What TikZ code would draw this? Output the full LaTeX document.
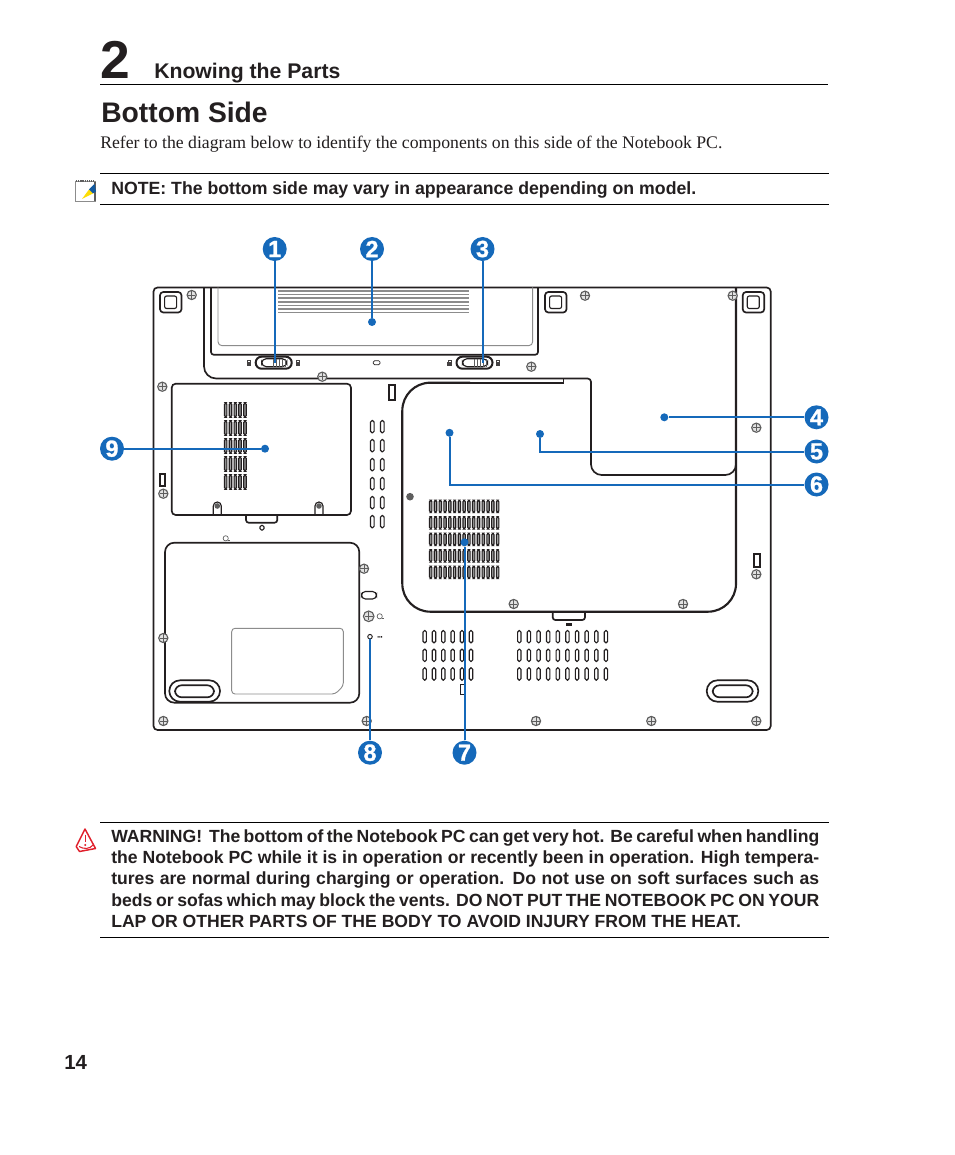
\documentclass[tikz,border=0pt]{standalone}
\usepackage{fontspec}
\setmainfont{Liberation Sans}
\newfontfamily\serifface{Liberation Serif}
\newfontfamily\numface[FakeBold=1.2]{Liberation Sans Bold}
\usepackage{xcolor}
\definecolor{cMain}{HTML}{1569BA}
\definecolor{cInk}{HTML}{231F20}
\definecolor{cGray}{HTML}{8C8C8C}
\definecolor{cSlot}{HTML}{5E5E5E}
\definecolor{cBad}{HTML}{E0202C}
\usetikzlibrary{positioning,arrows.meta}
\tikzset{
  node-num/.style={circle,fill=cMain,text=white,inner sep=0pt,minimum size=18pt,
    font=\numface\fontsize{17.5}{17.5}\selectfont},
  node-dot/.style={circle,fill=cMain,inner sep=0pt,minimum size=6pt},
  node-hole/.style={circle,draw=cInk,fill=white,line width=.7pt,inner sep=0pt,minimum size=3.4pt},
  node-text/.style={inner sep=0pt,text=cInk,anchor=base west},
  arrow-lead/.style={line width=1.5pt,draw=cMain},
  rule-line/.style={line width=.75pt,draw=black},
  part-line/.style={line width=1.25pt,draw=cInk},
  part-heavy/.style={line width=1.6pt,draw=cInk},
  part-thin/.style={line width=.85pt,draw=cInk},
  part-gray/.style={line width=.7pt,draw=cGray},
  vent-slot/.style={line width=.85pt,draw=cInk,rounded corners=1.2pt},
  screw/.pic={
    \draw[line width=.85pt,draw=cSlot,fill=cGray!25] (0,0) circle (4.6);
    \draw[line width=.7pt,draw=cSlot] (-3.6,0) -- (3.6,0) (0,-3.6) -- (0,3.6);
  },
  padfoot/.pic={
    \draw[part-line,rounded corners=2.5pt] (0,0) rectangle (21.5,20.5);
    \draw[part-thin,rounded corners=1.5pt] (4.6,4) rectangle (16.6,16.5);
  },
  latch/.pic={
    \draw[line width=1.5pt,draw=cInk,rounded corners=4.4pt] (0,-6) rectangle (36,6);
    \draw[part-thin,rounded corners=3.4pt] (6,-4) rectangle (31,4);
    \foreach \hx in {18,21,24,27,30} \draw[line width=.45pt,draw=cSlot] (\hx,-4) -- (\hx,4);
  },
  lockmark/.pic={
    \fill[cInk!85] (-2.4,-1) rectangle (2.4,2.8);
    \draw[line width=.6pt,draw=cInk!85] (-1.3,-1) -- (-1.3,-2.6) -- (1.3,-2.6) -- (1.3,-1);
  },
}
\begin{document}
\begin{tikzpicture}[x=.75pt,y=-.75pt]
  \useasboundingbox (0,0) rectangle (954,1155);
  \fill[white] (0,0) rectangle (954,1155);
  % page heading
  \node[node-text,font=\bfseries\fontsize{40}{40}\selectfont] (chapno) at (100,78.5) {2};
  \node[node-text,font=\bfseries\fontsize{15.9}{16}\selectfont] (chaptitle) at (154,78.5) {Knowing the Parts};
  \draw[rule-line] (100,84.5) -- (828,84.5);
  \node[node-text,font=\bfseries\fontsize{21.2}{22}\selectfont] (pagetitle) at (101,122.7) {Bottom Side};
  \node[node-text,font=\serifface\fontsize{13.27}{14}\selectfont] (intro) at (100,148.2)
    {Refer to the diagram below to identify the components on this side of the Notebook PC.};
  % note
  \draw[rule-line] (100,173.5) -- (829,173.5);
  \draw[rule-line] (100,204.5) -- (829,204.5);
  \node[node-text,font=\bfseries\fontsize{13.27}{15}\selectfont] (notetext) at (111,194.7)
    {NOTE: The bottom side may vary in appearance depending on model.};
  \draw[line width=.5pt,draw=cGray,fill=white] (75.5,181) rectangle (95,201.5);
  \draw[line width=1pt,draw=cSlot,dash pattern=on 1pt off .6pt] (76,181) -- (95,181);
  \draw[line width=1pt,draw=cSlot] (95,182) -- (95,201.5);
  \fill[yellow!80!orange] (82,199) -- (89,189.5) -- (93,193.5) -- cycle;
  \fill[cMain!85!black] (89,189.5) -- (94.5,184) -- (96,191.5) -- (93,193.5) -- cycle;
  % notebook body
  \draw[part-line,rounded corners=3pt] (153.5,287.5) rectangle (770.7,730);
  % battery bay
  \draw[part-line] (204,287.5) [rounded corners=9pt] -- (204,378.5) [rounded corners=2.5pt] -- (591,378.5)
    [rounded corners=8pt] -- (591,475) -- (736,475) [sharp corners] -- (736,462);
  \draw[part-line,rounded corners=2pt] (211,287.5) -- (211,354.7) -- (538,354.7) -- (538,287.5);
  \draw[part-gray,rounded corners=3pt] (218,287.5) -- (218,345.7) -- (532.7,345.7) -- (532.7,287.5);
  \foreach \vy in {291,294.6,298.2,301.8,305.4,309,312.4}
    \draw[line width=1.2pt,draw=cGray] (278.3,\vy) -- (469.3,\vy);
  % disk cover
  \draw[part-line] (563.5,378.5) -- (563.5,382.7) -- (470,382.7);
  \draw[part-heavy] (736,287.5) -- (736,560) [rounded corners=21pt] -- (736,611.7) -- (402.3,611.7)
    -- (402.3,382.7) -- (470,382.7);
  \foreach \vx in {0,...,14} \foreach \vy in {506.3,522.8,539.3,555.8,572.3}
    \draw[vent-slot,fill=cSlot!60] ({430.7+\vx*4.78-1.2},{\vy-6.2}) rectangle ({430.7+\vx*4.78+1.2},{\vy+6.2});
  \draw[part-line,rounded corners=2pt] (552.7,611.7) -- (552.7,620) -- (585,620) -- (585,611.7);
  \fill[cInk] (565.5,622.8) rectangle (571.7,625.8);
  % memory cover
  \draw[part-line,rounded corners=3pt] (171.7,383.7) rectangle (351,515);
  \foreach \vx in {225.7,230.5,235.3,240,245} \foreach \vy in {410,428,446,464,482}
    \draw[vent-slot,fill=cSlot!60] ({\vx-1.2},{\vy-7.2}) rectangle ({\vx+1.2},{\vy+7.2});
  \foreach \bx in {217.3,319} {
    \draw[part-thin] ({\bx-4},515) -- ({\bx-4},506) arc (180:360:4) -- ({\bx+4},515);
    \fill[cSlot] (\bx,506) circle (2.8);
  }
  \draw[part-line,rounded corners=2pt] (246,515) -- (246,522.7) -- (277.3,522.7) -- (277.3,515);
  \draw[part-thin,rounded corners=1pt] (260,525.5) rectangle (264,530);
  % middle vents
  \foreach \vy in {426.7,445.7,464.7,483.7,502.7,521.7} \foreach \vx in {372.3,382.3}
    \draw[vent-slot] ({\vx-1.8},{\vy-6.2}) rectangle ({\vx+1.8},{\vy+6.2});
  % lower vents
  \foreach \vy in {636.7,655.3,674} {
    \foreach \vx in {424.7,434,443.3,452.7,462,471}
      \draw[vent-slot] ({\vx-1.7},{\vy-6.2}) rectangle ({\vx+1.7},{\vy+6.2});
    \foreach \vn in {0,...,9}
      \draw[vent-slot] ({519.3+\vn*9.63-1.7},{\vy-6.2}) rectangle ({519.3+\vn*9.63+1.7},{\vy+6.2});
  }
  % lower left cover
  \draw[part-line,rounded corners=7pt] (165,542.7) rectangle (359.3,702.7);
  \draw[part-gray,rounded corners=2.5pt] (231.7,628.3) -- (343.3,628.3) -- (343.3,686) -- (335.3,694) -- (231.7,694) -- cycle;
  \draw[part-line,fill=white,rounded corners=8pt] (169.3,680.3) rectangle (220,701.7);
  \draw[part-line,rounded corners=5pt] (175,685.3) rectangle (214,697.3);
  \draw[part-line,fill=white,rounded corners=8pt] (706.7,680.3) rectangle (758.3,701.7);
  \draw[part-line,rounded corners=5pt] (712.7,685.3) rectangle (752.7,697.3);
  \draw[part-thin,rounded corners=3pt] (361.5,591.5) rectangle (376.5,599);
  % small marks
  \draw[line width=1.4pt,draw=cInk] (388.6,384.6) rectangle (394.8,400.4);
  \draw[line width=1.4pt,draw=cInk] (160.3,473.6) rectangle (165,486.4);
  \draw[line width=1.4pt,draw=cInk] (753.6,554.3) rectangle (759.7,567);
  \draw[part-thin] (460.5,684.2) rectangle (465,694.2);
  \draw[line width=.5pt,draw=cInk,rounded corners=1pt] (373.3,360.7) rectangle (380,364.7);
  \fill[cInk] (377.5,636.2) rectangle (378.6,637.6) (379.3,636.2) rectangle (380.4,637.6) (381,636.2) rectangle (382,637.6);
  \foreach \kx/\ky in {226.7/538.3,380.7/616.3} {
    \draw[line width=.5pt,draw=cSlot] (\kx-1,\ky) circle (2.6);
    \draw[line width=.5pt,draw=cSlot] (\kx+1,\ky+2) -- (\kx+3.5,\ky+2);
  }
  \foreach \fx in {160,545,742.7} \pic at (\fx,292) {padfoot};
  \pic at (255.7,362.7) {latch};
  \pic at (456.5,362.7) {latch};
  \foreach \lx in {249,298,449.7,498} \pic at (\lx,363) {lockmark};
  % screws
  \foreach \sx/\sy in {191.7/295,322.3/376.7,531.3/366.7,162.3/386.7,163.3/493.7,585/295.7,732.7/295.7,
    756.3/427.7,364/568.7,163.3/638,163.3/721,366.7/721,513.7/604,683/604,756.3/574.3,536/721,651.3/721,756.3/721}
    \pic at (\sx,\sy) {screw};
  \pic[scale=1.15] at (368.7,616.3) {screw};
  \fill[cSlot] (410,496.7) circle (3.8);
  % callouts
  \node[node-num] (num1) at (274.7,249) {1};
  \node[node-num] (num2) at (372,249) {2};
  \node[node-num] (num3) at (482.5,249) {3};
  \node[node-num] (num4) at (816.5,417.3) {4};
  \node[node-num] (num5) at (816.5,451.5) {5};
  \node[node-num] (num6) at (816.5,484.5) {6};
  \node[node-num] (num7) at (464.5,752.7) {7};
  \node[node-num] (num8) at (370,752.7) {8};
  \node[node-num] (num9) at (112,448.7) {9};
  \coordinate (end1) at (274.7,362.7);
  \node[node-dot] (dot2) at (372,322) {};
  \coordinate (end3) at (482.5,363);
  \node[node-dot] (dot4) at (664.3,417.3) {};
  \node[node-dot] (dot5) at (540,434) {};
  \node[node-dot] (dot6) at (449.5,432.8) {};
  \node[node-dot] (dot7) at (464.5,542.3) {};
  \node[node-hole] (dot8) at (370,636.7) {};
  \node[node-dot] (dot9) at (265,448.7) {};
  \draw[arrow-lead] (num1) -- (end1);
  \draw[arrow-lead] (num2) -- (dot2);
  \draw[arrow-lead] (num3) -- (end3);
  \draw[arrow-lead] (num4) -- (dot4);
  \draw[arrow-lead] (num5) -| (dot5);
  \draw[arrow-lead] (num6) -| (dot6);
  \draw[arrow-lead] (num7) -- (dot7);
  \draw[arrow-lead] (num8) -- (dot8);
  \draw[arrow-lead] (num9) -- (dot9);
  % warning
  \draw[rule-line] (100,822.5) -- (829,822.5);
  \draw[rule-line] (100,937.5) -- (829,937.5);
  \draw[line width=1.1pt,draw=cBad,fill=white,line join=round] (85,829) -- (95.5,848.5) -- (79.5,851.5) -- (76.2,846.5) -- cycle;
  \draw[line width=.8pt,draw=cBad] (79,846.5) .. controls (84,849.5) and (90,849) .. (93,845);
  \draw[line width=1.2pt,draw=cBad] (85.3,834.5) -- (85.3,842);
  \fill[cBad] (85.3,845) circle (1.1);
  \node[node-text,anchor=north west,text width=531pt,align=justify,
    font=\bfseries\fontsize{13.2}{15.95}\selectfont] (warntext) at (111,829.4) {WARNING!\ \ The bottom of the Notebook PC can get very hot. Be careful when handling\linebreak
    the Notebook PC while it is in operation or recently been in operation. High tempera-\linebreak
    tures are normal during charging or operation. Do not use on soft surfaces such as\linebreak
    beds or sofas which may block the vents. DO NOT PUT THE NOTEBOOK PC ON YOUR\linebreak
    LAP OR OTHER PARTS OF THE BODY TO AVOID INJURY FROM THE HEAT.};
  \node[node-text,font=\bfseries\fontsize{15.3}{16}\selectfont] (pageno) at (64,1069.7) {14};
\end{tikzpicture}
\end{document}
